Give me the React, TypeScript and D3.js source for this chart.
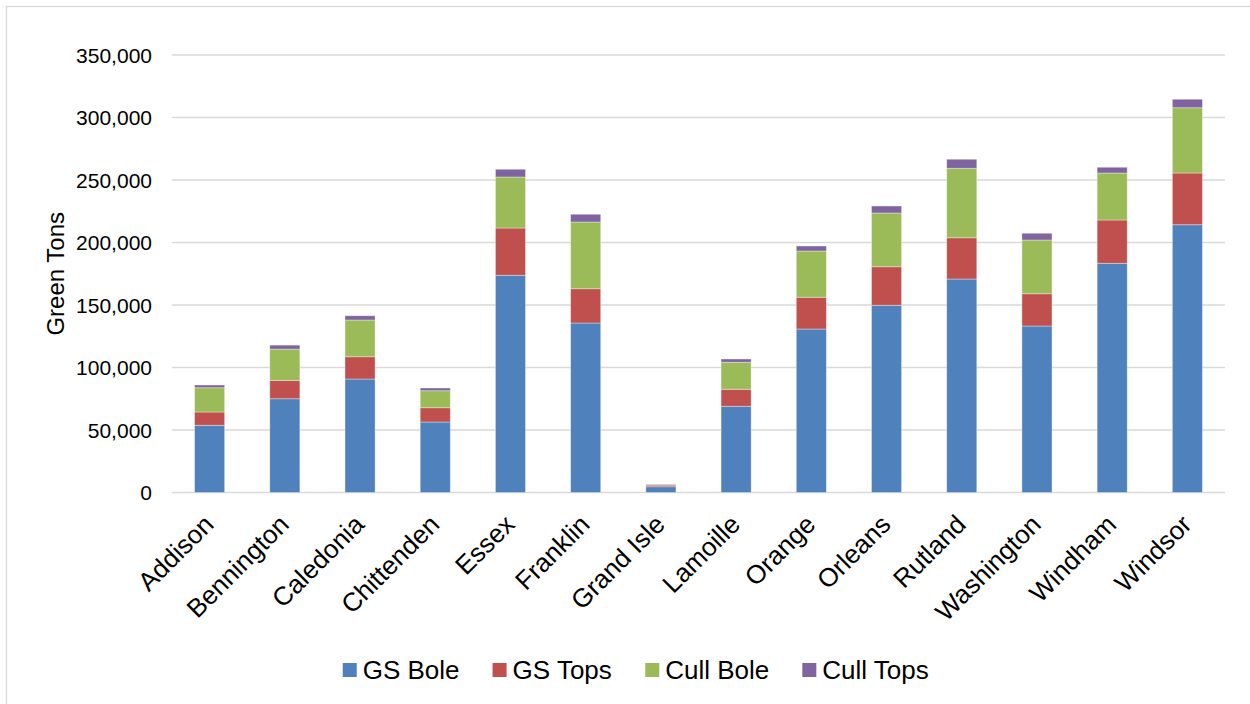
import React, { useMemo } from "react";
import * as d3 from "d3";

// Counties and tonnage by component (green tons)
const counties = [
  "Addison", "Bennington", "Caledonia", "Chittenden", "Essex", "Franklin", "Grand Isle",
  "Lamoille", "Orange", "Orleans", "Rutland", "Washington", "Windham", "Windsor",
];
const gsBole = [53800, 75000, 90800, 56400, 173800, 135600, 4600, 69000, 130800, 149800, 170800, 133200, 183400, 214200];
const gsTops = [10600, 14700, 17800, 11400, 37800, 27400, 1300, 13600, 25400, 30800, 33000, 25800, 34600, 41400];
const cullBole = [19400, 25000, 29400, 13600, 40800, 53400, 600, 21600, 37000, 43000, 55600, 43000, 37600, 52200];
const cullTops = [2200, 3200, 3400, 2200, 6200, 6200, 300, 2600, 4000, 5600, 7200, 5400, 4600, 6800];

const seriesNames = ["GS Bole", "GS Tops", "Cull Bole", "Cull Tops"];
const seriesColors = ["#4F81BD", "#C0504D", "#9BBB59", "#8064A2"];
const yTicks = [0, 50000, 100000, 150000, 200000, 250000, 300000, 350000];

const W = 1250;
const H = 704;
const FONT = "'Liberation Sans', Arial, sans-serif";
const plot = { left: 172, right: 1225, top: 55, bottom: 492.5 };

function measure(text: string, size: number): number {
  const c = document.createElement("canvas").getContext("2d");
  if (!c) return text.length * size * 0.55;
  c.font = `${size}px 'Liberation Sans', Arial, sans-serif`;
  return c.measureText(text).width;
}

export default function App() {
  const rows = counties.map((name, i) => ({
    name,
    "GS Bole": gsBole[i],
    "GS Tops": gsTops[i],
    "Cull Bole": cullBole[i],
    "Cull Tops": cullTops[i],
  }));
  const stacked = d3.stack<any>().keys(seriesNames)(rows);

  const x = d3.scaleBand().domain(counties).range([plot.left, plot.right]).paddingInner(0.6).paddingOuter(0.3);
  const y = d3.scaleLinear().domain([0, 350000]).range([plot.bottom, plot.top]);
  const fmt = d3.format(",");

  const legendSize = 26;
  const legend = useMemo(() => {
    const widths = seriesNames.map((s) => measure(s, legendSize));
    const swatch = 14;
    const gapText = 6;
    const gapItem = 33;
    const total = widths.reduce((a, w) => a + swatch + gapText + w, 0) + gapItem * (seriesNames.length - 1);
    let cur = 636 - total / 2;
    return seriesNames.map((s, i) => {
      const item = { name: s, color: seriesColors[i], x: cur };
      cur += swatch + gapText + widths[i] + gapItem;
      return item;
    });
  }, []);

  return (
    <svg width={W} height={H} style={{ position: "absolute", left: 0, top: 0, background: "#fff" }} fontFamily={FONT}>
      <rect x={0} y={0} width={W} height={H} fill="#fff" />
      <rect x={6.5} y={6.5} width={1270} height={720} fill="none" stroke="#d9d9d9" strokeWidth={1.3} />

      {yTicks.map((t) => (
        <g key={t}>
          <line x1={plot.left} x2={plot.right} y1={y(t)} y2={y(t)} stroke="#d9d9d9" strokeWidth={1.3} />
          <text x={152} y={y(t)} dy="0.36em" textAnchor="end" fontSize={21} fill="#000">
            {fmt(t)}
          </text>
        </g>
      ))}

      <text transform={`translate(55,${(plot.top + plot.bottom) / 2}) rotate(-90)`} textAnchor="middle" dy="0.36em" fontSize={24} fill="#000">
        Green Tons
      </text>

      {stacked.map((layer, si) => (
        <g key={layer.key} fill={seriesColors[si]}>
          {layer.map((d, i) => (
            <rect
              key={counties[i]}
              x={x(counties[i])}
              width={x.bandwidth()}
              y={y(d[1])}
              height={Math.max(0, y(d[0]) - y(d[1]))}
              stroke="#ffffff"
              strokeOpacity={0.45}
              strokeWidth={0.8}
            />
          ))}
        </g>
      ))}

      {counties.map((c) => {
        const cx = (x(c) as number) + x.bandwidth() / 2;
        return (
          <text
            key={c}
            transform={`translate(${cx - 1},${plot.bottom + 27}) rotate(-45)`}
            textAnchor="end"
            dy="0.36em"
            fontSize={26}
            fill="#000"
          >
            {c}
          </text>
        );
      })}

      {legend.map((l) => (
        <g key={l.name}>
          <rect x={l.x} y={663} width={14} height={14} fill={l.color} />
          <text x={l.x + 20} y={670} dy="0.36em" fontSize={legendSize} fill="#000">
            {l.name}
          </text>
        </g>
      ))}
    </svg>
  );
}
